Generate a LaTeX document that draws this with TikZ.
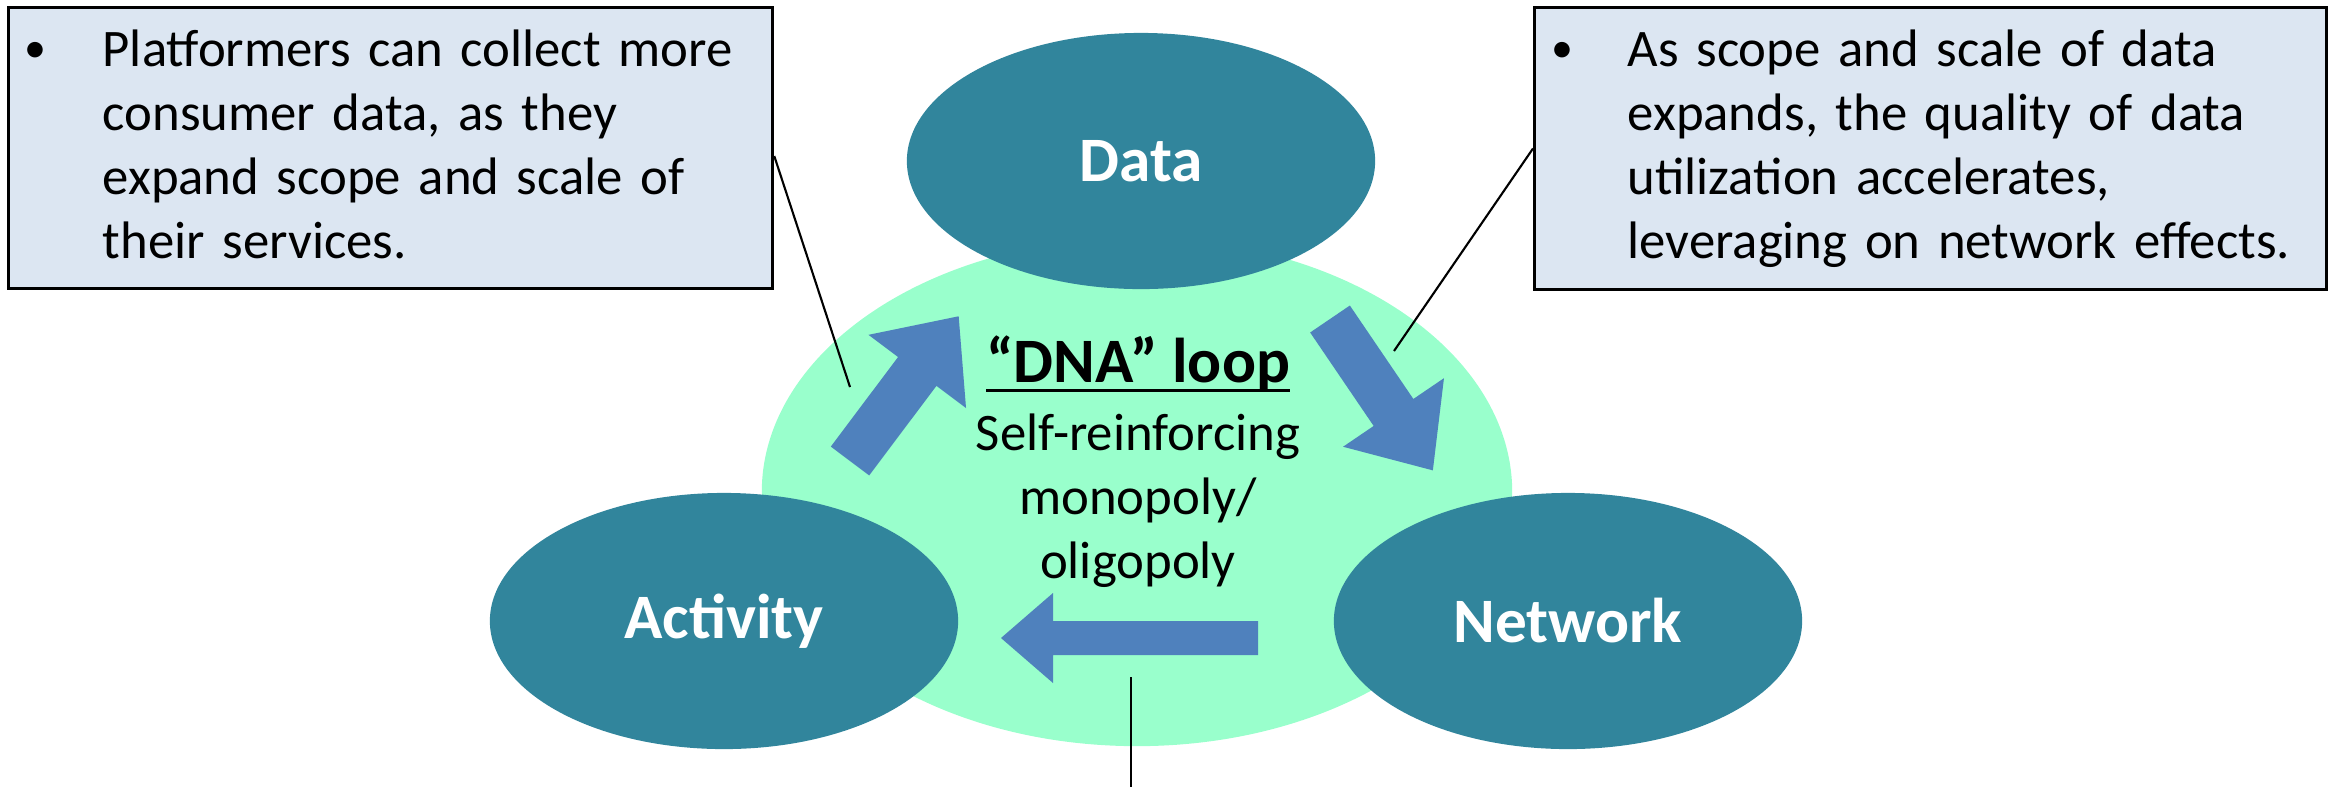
\documentclass[tikz,border=0pt]{standalone}
\usepackage{fontspec}
\setmainfont{Carlito}
\usetikzlibrary{shapes.geometric,calc}

\definecolor{tealnode}{HTML}{31859C}
\definecolor{loopgreen}{HTML}{99FFCC}
\definecolor{arrowblue}{HTML}{4F81BD}
\definecolor{boxblue}{HTML}{DCE6F2}

\newcommand{\bodyfont}{\fontsize{15}{18.2}\selectfont}
\newcommand{\ulinetext}[1]{\setbox0\hbox{#1}\rlap{\rule[-2.8pt]{\wd0}{0.9pt}}\box0}
% block arrow: tail, angle, length, shaft half width, head half width, head length
\newcommand{\blockarrow}[6]{%
  \fill[arrowblue, shift={#1}, rotate=#2]
    (0,-#4) -- (#3-#6,-#4) -- (#3-#6,-#5) -- (#3,0) -- (#3-#6,#5) -- (#3-#6,#4) -- (0,#4) -- cycle;}

\begin{document}
\begin{tikzpicture}[x=0.01cm, y=-0.01cm,
    hub/.style={ellipse, fill=tealnode, text=white, inner sep=0pt,
      minimum width=4.68cm, minimum height=2.56cm, font=\fontsize{18}{21}\selectfont\bfseries},
    notebox/.style={draw=black, line width=0.8pt, fill=boxblue, anchor=north west, inner sep=0pt},
    notetext/.style={anchor=north west, inner sep=0pt, align=left, text width=7cm, font=\bodyfont},
    dot/.style={anchor=base west, inner sep=0pt, font=\fontsize{12.5}{15}\selectfont},
    leader/.style={draw=black, line width=0.6pt}]
  \useasboundingbox (0,0) rectangle (2335,787);

  % the loop and its three hubs
  \node[ellipse, fill=loopgreen, minimum width=7.5cm, minimum height=5.08cm] (loop) at (1137,492) {};
  \node[hub] (data) at (1141,161) {Data};
  \node[hub] (activity) at (724,621) {Activity};
  \node[hub] (network) at (1568,621) {Network};

  % block arrows round the loop
  \coordinate (a1) at (850,461);
  \coordinate (a2) at (1330,319);
  \coordinate (a3) at (1258,638);
  \blockarrow{(a1)}{53.1}{181}{24}{61}{69}
  \blockarrow{(a2)}{-55.8}{183}{24}{61}{70}
  \blockarrow{(a3)}{180}{257}{17}{45}{52}

  \node[font=\fontsize{18}{21}\selectfont\bfseries, anchor=base, inner sep=0pt] (looptitle) at (1138,382) {\ulinetext{“DNA” loop}};
  \node[font=\bodyfont, align=center, text width=4cm, anchor=north, inner sep=0pt] (loopdesc) at (1138,413) {Self-reinforcing\\monopoly/\\oligopoly};

  % notes
  \node[notebox, minimum width=7.64cm, minimum height=2.81cm] (platbox) at (7,6) {};
  \node[dot] (platbullet) at (24,62) {\textbullet};
  \node[notetext] (plattext) at (102,29) {Platformers can collect more\\consumer data, as they\\expand scope and scale of\\their services.};

  \node[notebox, minimum width=7.92cm, minimum height=2.82cm] (scopebox) at (1533,6) {};
  \node[dot] (scopebullet) at (1551,62) {\textbullet};
  \node[notetext] (scopetext) at (1627,29) {As scope and scale of data\\expands, the quality of data\\utilization accelerates,\\leveraging on network effects.};

  % leader lines
  \coordinate (platend) at (850,387);
  \coordinate (scopeend) at (1394,351);
  \coordinate (linktop) at (1131,677);
  \coordinate (linkbot) at (1131,787);
  \draw[leader] ($(platbox.east)+(0,8)$) -- (platend);
  \draw[leader] (scopebox.west) -- (scopeend);
  \draw[leader] (linktop) -- (linkbot);
\end{tikzpicture}
\end{document}
